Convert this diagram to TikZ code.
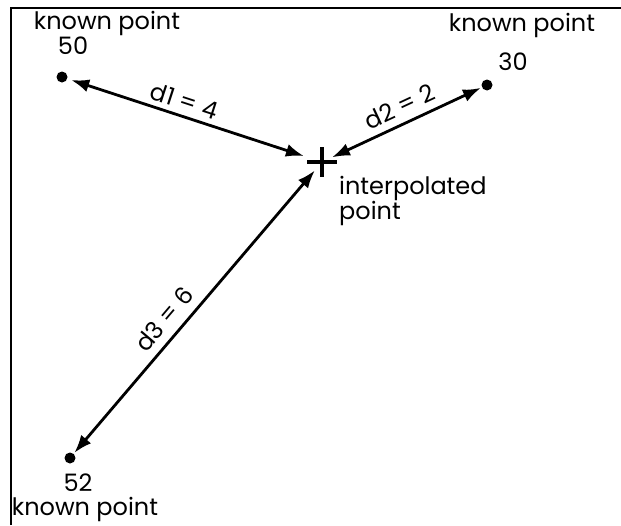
\documentclass[tikz,border=0pt]{standalone}
\usepackage{fontspec}
\setmainfont{Poppins}
\usetikzlibrary{arrows.meta}
\begin{document}
\begin{tikzpicture}[x=1pt,y=-1pt,
  lbl/.style={font=\fontsize{24}{23.5}\selectfont, inner sep=0pt},
  dot/.style={circle, fill=black, minimum size=11pt, inner sep=0pt},
  arr/.style={line width=2.8pt, {Latex[length=18pt,width=13pt]}-{Latex[length=18pt,width=13pt]}},
  frame/.style={line width=2.4pt}]
\useasboundingbox (0,0) rectangle (621,525);
% frame
\coordinate (fbl) at (11,525);
\coordinate (ftl) at (11,8);
\coordinate (ftr) at (621,8);
\draw[frame] (fbl) -- (ftl) -- (ftr);
% points
\node[dot] (p50) at (62,77) {};
\node[dot] (p30) at (487,85) {};
\node[dot] (p52) at (70,458) {};
\coordinate (ip) at (322,162);
\coordinate (ipl) at (307,162);
\coordinate (ipr) at (337,162);
\coordinate (ipu) at (322,147);
\coordinate (ipd) at (322,177);
\draw[line width=3.5pt] (ipl) -- (ipr);
\draw[line width=3.5pt] (ipu) -- (ipd);
% labels
\node[lbl] (k50) at (107,23) {known point};
\node[lbl] (v50) at (73,46) {50};
\node[lbl] (k30) at (522,25) {known point};
\node[lbl] (v30) at (513,62) {30};
\node[lbl, anchor=west, align=left] (iplbl) at (339,201) {interpolated\\point};
\node[lbl] (v52) at (78,483) {52};
\node[lbl] (k52) at (85,509) {known point};
% connectors
\draw[arr, shorten <=4pt, shorten >=19pt] (p50) -- node[lbl, sloped, above=5pt, pos=0.44] (d1) {d1 = 4} (ip);
\draw[arr, shorten <=11pt, shorten >=1pt] (ip) -- node[lbl, sloped, above=7pt, pos=0.53] (d2) {d2 = 2} (p30);
\draw[arr, shorten <=1pt, shorten >=11pt] (p52) -- node[lbl, sloped, above=8pt, pos=0.42] (d3) {d3 = 6} (ip);
\end{tikzpicture}
\end{document}
